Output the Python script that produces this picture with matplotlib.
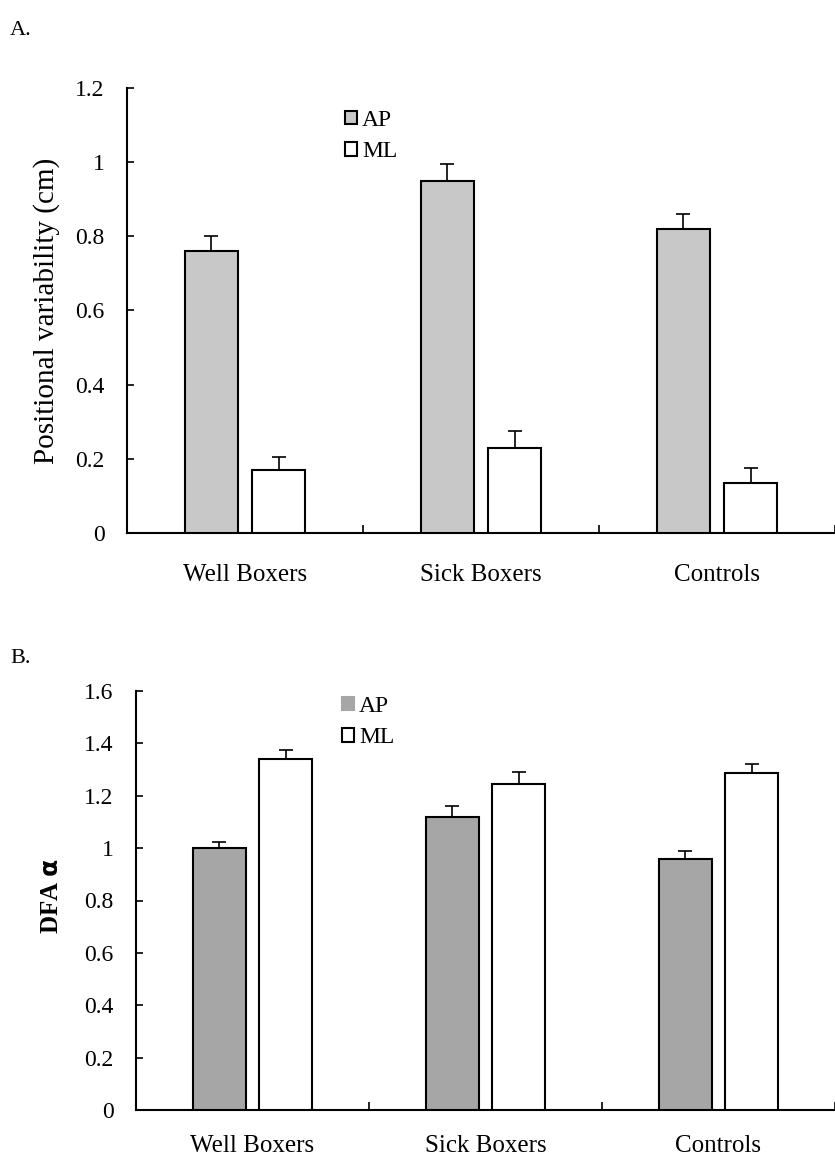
import matplotlib.pyplot as plt
import numpy as np

plt.rcParams['font.family'] = ['Liberation Serif', 'DejaVu Serif']

groups = ['Well Boxers', 'Sick Boxers', 'Controls']

# panel A: positional variability (cm)
pv_ap = [0.76, 0.95, 0.82]
pv_ap_err = [0.04, 0.045, 0.04]
pv_ml = [0.17, 0.23, 0.135]
pv_ml_err = [0.035, 0.045, 0.04]

# panel B: DFA alpha
dfa_ap = [1.0, 1.12, 0.96]
dfa_ap_err = [0.025, 0.04, 0.03]
dfa_ml = [1.34, 1.245, 1.285]
dfa_ml_err = [0.035, 0.045, 0.035]

W, H = 835, 1159
fig = plt.figure(figsize=(W / 100, H / 100), dpi=100)


def panel(rect, ap, ap_err, ml, ml_err, ap_color, ymax, yticks, ylabel, leg_pos, ap_edge, xpad, ylsize):
    ax = fig.add_axes(rect)
    x = np.arange(len(groups))
    w = 0.224
    off = 0.142
    ekw = dict(ecolor='black', elinewidth=1.2, capsize=5, capthick=1.2)
    ax.bar(x - off, ap, w, color=ap_color, edgecolor='black', linewidth=1.5,
           yerr=[np.zeros(3), ap_err], error_kw=ekw, label='AP', zorder=3)
    ax.bar(x + off, ml, w, color='white', edgecolor='black', linewidth=1.5,
           yerr=[np.zeros(3), ml_err], error_kw=ekw, label='ML', zorder=3)
    ax.set_xlim(-0.5, 2.5)
    ax.set_ylim(0, ymax)
    ax.set_yticks(yticks)
    ax.set_yticklabels(['%g' % t for t in yticks], fontsize=17)
    ax.set_xticks([0.5, 1.5, 2.5])
    ax.set_xticklabels([])
    ax.set_xticks(x, minor=True)
    ax.set_xticklabels(groups, minor=True, fontsize=18)
    ax.tick_params(axis='x', which='major', direction='in', length=6, width=1.2)
    ax.tick_params(axis='x', which='minor', length=0, pad=xpad)
    ax.tick_params(axis='y', direction='in', length=5, width=1.2, pad=16)
    for s in ['top', 'right']:
        ax.spines[s].set_visible(False)
    for s in ['left', 'bottom']:
        ax.spines[s].set_linewidth(1.5)
    ax.set_ylabel(ylabel, fontsize=ylsize)
    handles, labels = ax.get_legend_handles_labels()
    leg = ax.legend(handles, labels, loc='center left', bbox_to_anchor=leg_pos,
                    bbox_transform=fig.transFigure, frameon=False, fontsize=17,
                    handlelength=0.5, handleheight=0.5, handletextpad=0.2,
                    labelspacing=0.45, borderaxespad=0)
    if not ap_edge:
        leg.get_patches()[0].set_edgecolor(ap_color)
    return ax


axA = panel([127 / W, 1 - 533 / H, 1 - 127 / W, 445 / H], pv_ap, pv_ap_err, pv_ml, pv_ml_err,
            '#c8c8c8', 1.2, [0, 0.2, 0.4, 0.6, 0.8, 1.0, 1.2], 'Positional variability (cm)',
            (336 / W, 1 - 136 / H), True, 22, 21)
axA.yaxis.set_label_coords(-0.095, 0.5)
axB = panel([136 / W, 1 - 1110 / H, 1 - 136 / W, 419 / H], dfa_ap, dfa_ap_err, dfa_ml, dfa_ml_err,
            '#a6a6a6', 1.6, [0, 0.2, 0.4, 0.6, 0.8, 1.0, 1.2, 1.4, 1.6], r'DFA $\mathbf{\alpha}$',
            (333 / W, 1 - 722 / H), False, 18, 18)
axB.yaxis.set_label_coords(-0.104, 0.51)
axB.yaxis.label.set_fontweight('bold')

fig.text(10 / W, 1 - 35 / H, 'A.', fontsize=16)
fig.text(10 / W, 1 - 663 / H, 'B.', fontsize=16)

fig.savefig('out.png', dpi=100)
